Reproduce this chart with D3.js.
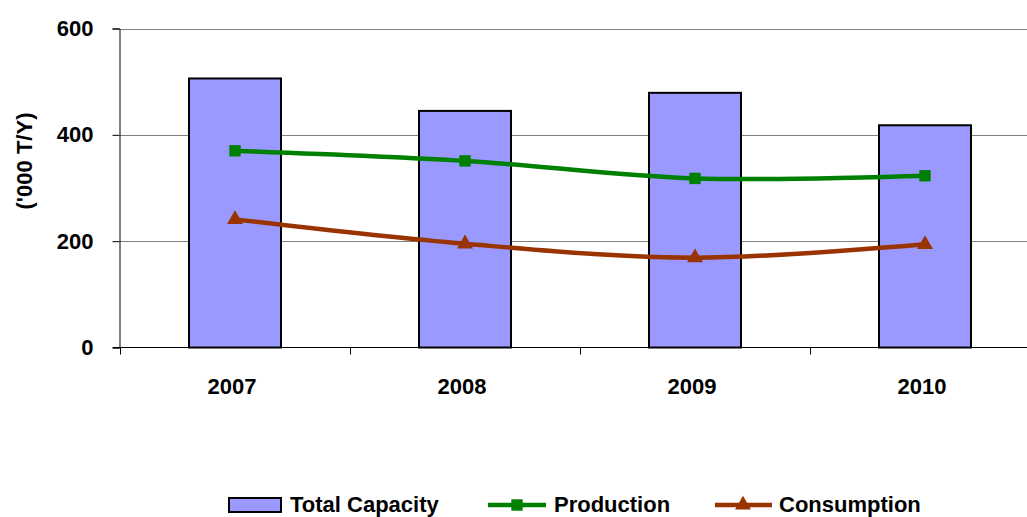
<!DOCTYPE html>
<html>
<head>
<meta charset="utf-8">
<script src="https://cdn.jsdelivr.net/npm/d3@7"></script>
<style>
  html, body { margin: 0; padding: 0; background: #fff; }
  svg { display: block; font-family: "Liberation Sans", Arial, sans-serif; font-weight: bold; }
</style>
</head>
<body>
<svg id="chart" width="1027" height="517"></svg>
<script>
// Chart data
const years = ["2007", "2008", "2009", "2010"];
const totalCapacity = [506, 445, 479, 418];
const production = [370, 351, 318, 323];
const consumption = [241, 195, 169, 194];
const yTicks = [0, 200, 400, 600];

const svg = d3.select("#chart");
const plotLeft = 120, plotTop = 28.5, plotBottom = 347.5, plotRight = 1040;
const fontSize = 22;

const x = d3.scaleBand().domain(years).range([plotLeft, plotRight]).paddingInner(0.6).paddingOuter(0.3);
const xBand = d3.scaleBand().domain(years).range([plotLeft, plotRight]);
const y = d3.scaleLinear().domain([0, 600]).range([plotBottom, plotTop]);

// Horizontal gridlines
svg.append("g")
  .selectAll("line")
  .data(yTicks.filter(d => d > 0))
  .join("line")
  .attr("x1", plotLeft).attr("x2", plotRight)
  .attr("y1", d => Math.round(y(d)) + 0.5).attr("y2", d => Math.round(y(d)) + 0.5)
  .attr("stroke", "#808080").attr("stroke-width", 1);

// Capacity bars
svg.append("g")
  .selectAll("rect")
  .data(years)
  .join("rect")
  .attr("x", d => x(d))
  .attr("width", x.bandwidth())
  .attr("y", (d, i) => y(totalCapacity[i]))
  .attr("height", (d, i) => y(0) - y(totalCapacity[i]))
  .attr("fill", "#9999FF")
  .attr("stroke", "#000")
  .attr("stroke-width", 2);

// Y axis
const yAxis = svg.append("g")
  .attr("transform", `translate(${plotLeft - 0.5},0)`)
  .call(d3.axisLeft(y).tickValues(yTicks).tickSize(7).tickPadding(19));
yAxis.select(".domain").attr("stroke", "#000");
yAxis.selectAll(".tick line").attr("stroke", "#000");
yAxis.selectAll("text").attr("font-size", fontSize).attr("font-weight", "bold").attr("fill", "#000")
  .attr("font-family", "Liberation Sans, Arial, sans-serif");

// X axis with ticks between categories
const xAxisG = svg.append("g").attr("transform", `translate(0,${plotBottom})`);
xAxisG.append("line").attr("x1", plotLeft - 7).attr("x2", plotRight).attr("y1", 0).attr("y2", 0).attr("stroke", "#000");
xAxisG.selectAll("line.tk")
  .data(years)
  .join("line").attr("class", "tk")
  .attr("x1", d => xBand(d) + 0.5).attr("x2", d => xBand(d) + 0.5)
  .attr("y1", 0).attr("y2", 7).attr("stroke", "#000");
xAxisG.selectAll("text")
  .data(years)
  .join("text")
  .attr("x", d => xBand(d) + xBand.bandwidth() / 2 - 3)
  .attr("y", 46)
  .attr("text-anchor", "middle")
  .attr("font-size", fontSize)
  .text(d => d);

// Y axis title
svg.append("text")
  .attr("transform", "translate(32,161) rotate(-90)")
  .attr("text-anchor", "middle")
  .attr("font-size", fontSize)
  .text("('000 T/Y)");

// Lines
const cx = d => xBand(d) + xBand.bandwidth() / 2;
const line = d3.line().curve(d3.curveCatmullRom.alpha(0.5));

function drawSeries(values, color, shape) {
  const pts = years.map((d, i) => [cx(d), y(values[i])]);
  svg.append("path")
    .attr("d", line(pts))
    .attr("fill", "none")
    .attr("stroke", color)
    .attr("stroke-width", 4.5);
  svg.append("g").selectAll("path")
    .data(pts)
    .join("path")
    .attr("transform", p => `translate(${p[0]},${p[1]})`)
    .attr("d", d3.symbol().type(shape).size(shape === d3.symbolSquare ? 130 : 110)())
    .attr("fill", color);
}
drawSeries(production, "#008000", d3.symbolSquare);
drawSeries(consumption, "#993300", d3.symbolTriangle);

// Legend
const lg = svg.append("g").attr("transform", "translate(0,505)");
lg.append("rect").attr("x", 229).attr("y", -7).attr("width", 52).attr("height", 14)
  .attr("fill", "#9999FF").attr("stroke", "#000").attr("stroke-width", 2);
lg.append("text").attr("x", 290).attr("y", 7).attr("font-size", fontSize).text("Total Capacity");

lg.append("line").attr("x1", 488).attr("x2", 546).attr("y1", 0).attr("y2", 0)
  .attr("stroke", "#008000").attr("stroke-width", 4.5);
lg.append("path").attr("transform", "translate(517,0)")
  .attr("d", d3.symbol().type(d3.symbolSquare).size(130)()).attr("fill", "#008000");
lg.append("text").attr("x", 554).attr("y", 7).attr("font-size", fontSize).text("Production");

lg.append("line").attr("x1", 715).attr("x2", 772).attr("y1", 0).attr("y2", 0)
  .attr("stroke", "#993300").attr("stroke-width", 4.5);
lg.append("path").attr("transform", "translate(743,0)")
  .attr("d", d3.symbol().type(d3.symbolTriangle).size(110)()).attr("fill", "#993300");
lg.append("text").attr("x", 779).attr("y", 7).attr("font-size", fontSize).text("Consumption");
</script>
</body>
</html>
